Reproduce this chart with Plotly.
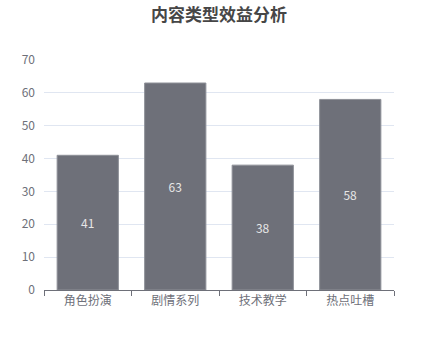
import plotly.graph_objects as go

categories = ["角色扮演", "剧情系列", "技术教学", "热点吐槽"]
values = [41, 63, 38, 58]
y_ticks = [0, 10, 20, 30, 40, 50, 60, 70]

FONT = "Noto Sans CJK SC, sans-serif"

fig = go.Figure(go.Bar(
    x=categories,
    y=values,
    width=0.7,
    marker=dict(color="#6e7079", line=dict(color="#8e9098", width=1)),
    text=[str(v) for v in values],
    textposition="inside",
    insidetextanchor="middle",
    textangle=0,
    textfont=dict(color="#e6e6e6", size=12, family=FONT),
    hoverinfo="skip",
))

fig.update_layout(
    width=438, height=360,
    margin=dict(l=44, r=44, t=60, b=70),
    paper_bgcolor="white", plot_bgcolor="white",
    font=dict(family=FONT, color="#6e7079", size=12),
    title=dict(text="内容类型效益分析", x=0.5, xanchor="center", y=0.958, yanchor="middle",
               font=dict(size=17, color="#464646", family=FONT, weight="bold")),
    showlegend=False,
    bargap=0.3,
)
fig.update_xaxes(
    showline=True, linecolor="#6e7079", linewidth=1,
    ticks="outside", tickson="boundaries", ticklen=5, tickcolor="#6e7079",
    showgrid=False, tickfont=dict(size=12, color="#6e7079"),
)
fig.update_yaxes(
    range=[0, 70], tickvals=y_ticks, showgrid=True, gridcolor="#e0e6f1", gridwidth=1,
    zeroline=False, showline=False, ticks="", ticklabelstandoff=8,
    tickfont=dict(size=12, color="#6e7079"),
)

fig.write_html("out.html")
